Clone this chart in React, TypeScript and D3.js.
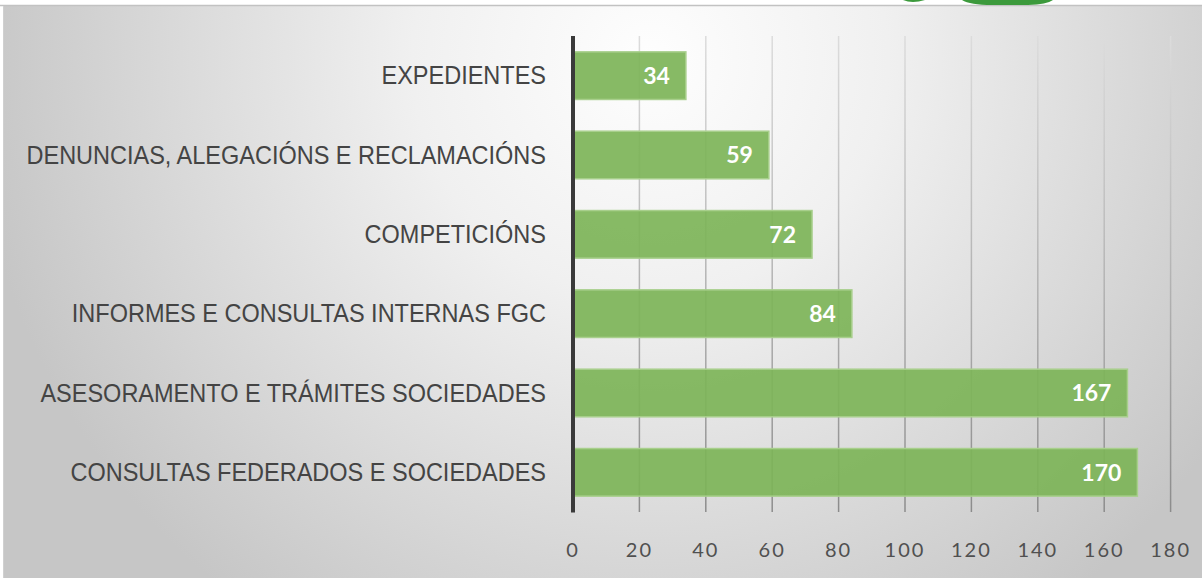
import React from "react";
import * as d3 from "d3";

const categories = [
  "EXPEDIENTES",
  "DENUNCIAS, ALEGACIÓNS E RECLAMACIÓNS",
  "COMPETICIÓNS",
  "INFORMES E CONSULTAS INTERNAS FGC",
  "ASESORAMENTO E TRÁMITES SOCIEDADES",
  "CONSULTAS FEDERADOS E SOCIEDADES",
];
const values = [34, 59, 72, 84, 167, 170];
const ticks = [0, 20, 40, 60, 80, 100, 120, 140, 160, 180];

const W = 1202;
const H = 578;
const LABEL_X = 546;

const App = () => {
  const x = d3.scaleLinear().domain([0, 180]).range([573, 1170.6]);
  const y = d3
    .scaleBand()
    .domain(categories)
    .range([36, 512])
    .paddingInner(0.4)
    .paddingOuter(0.2);

  return (
    <svg
      width={W}
      height={H}
      style={{ position: "absolute", left: 0, top: 0, display: "block" }}
    >
      <defs>
        <radialGradient
          id="bg"
          gradientUnits="userSpaceOnUse"
          cx={650}
          cy={60}
          r={680}
        >
          <stop offset="0" stopColor="#fefefe" />
          <stop offset="0.35" stopColor="#f0f0f0" />
          <stop offset="1" stopColor="#c6c6c6" />
        </radialGradient>
        <linearGradient
          id="grid"
          gradientUnits="userSpaceOnUse"
          x1={0}
          y1={36}
          x2={0}
          y2={512}
        >
          <stop offset="0" stopColor="#dcdcdc" />
          <stop offset="1" stopColor="#8c8c8c" />
        </linearGradient>
      </defs>

      <rect x={0} y={0} width={W} height={H} fill="#ffffff" />
      <rect x={4} y={6} width={W - 4} height={H - 6} fill="url(#bg)" />
      <line x1={0} x2={W} y1={5.5} y2={5.5} stroke="#c2c2c2" strokeWidth={1.5} />
      <line x1={3.5} x2={3.5} y1={6} y2={H} stroke="#d0d0d0" strokeWidth={1} />

      {/* piece of the logo cut by the top edge */}
      <path d="M903,0 Q912,4 925,0 Z" fill="#3c9a3c" />
      <path d="M962,0 Q970,5 992,5 L1028,5 Q1047,4.5 1053,0 Z" fill="#3c9a3c" />

      {/* grid */}
      {ticks.slice(1).map((t) => (
        <line
          key={t}
          x1={x(t)}
          x2={x(t)}
          y1={36}
          y2={512}
          stroke="url(#grid)"
          strokeWidth={1.5}
        />
      ))}

      {/* bars */}
      {categories.map((c, i) => {
        const cy = (y(c) ?? 0) + y.bandwidth() / 2;
        return (
          <g key={c}>
            <rect
              x={x(0)}
              y={y(c)}
              width={x(values[i]) - x(0)}
              height={y.bandwidth()}
              fill="#7db458"
              fillOpacity={0.92}
              stroke="#a8cf8c"
              strokeWidth={1.5}
            />
            <text
              x={x(values[i]) - 16}
              y={cy}
              dy="0.36em"
              textAnchor="end"
              fill="#ffffff"
              fontFamily="Lato, 'Open Sans', sans-serif"
              fontWeight="bold"
              fontSize={23}
            >
              {values[i]}
            </text>
            {/* condensed look: squeeze horizontally around the right anchor */}
            <text
              transform={`translate(${LABEL_X},${cy}) scale(0.94,1)`}
              dy="0.35em"
              textAnchor="end"
              fill="#444444"
              fontFamily="'Liberation Sans', Arial, sans-serif"
              fontSize={25}
            >
              {c}
            </text>
          </g>
        );
      })}

      {/* axis */}
      <line x1={x(0)} x2={x(0)} y1={36} y2={512.5} stroke="#3a3a3a" strokeWidth={4} />
      {ticks.map((t) => (
        <text
          key={t}
          x={x(t)}
          y={550}
          dy="0.36em"
          textAnchor="middle"
          fill="#505050"
          fontFamily="Lato, 'Open Sans', sans-serif"
          fontSize={20}
          letterSpacing={2}
        >
          {t}
        </text>
      ))}
    </svg>
  );
};

export default App;
